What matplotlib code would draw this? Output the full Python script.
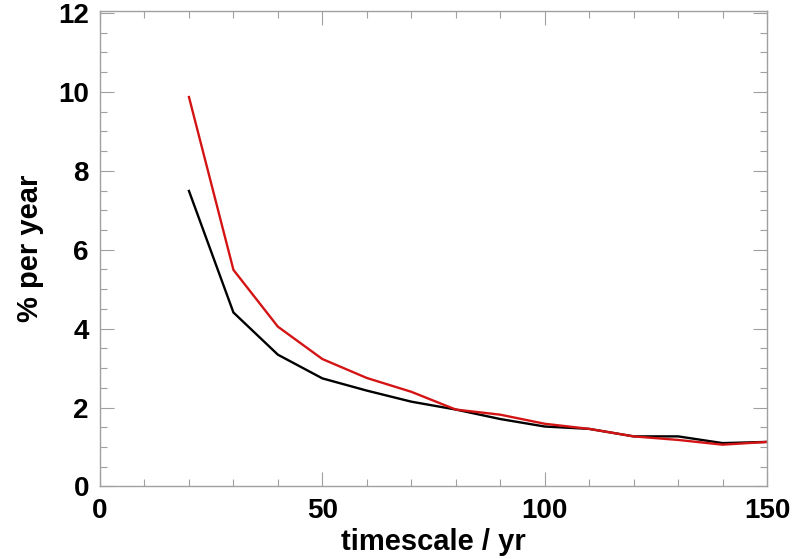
import matplotlib
matplotlib.use("Agg")
from matplotlib import pyplot as plt
from matplotlib.ticker import MultipleLocator

plt.rcParams['font.family'] = ['Liberation Sans', 'DejaVu Sans']
plt.rcParams['font.weight'] = 'bold'

# timescale (yr) and rates (% per year)
timescale = [20, 30, 40, 50, 60, 70, 80, 90, 100, 110, 120, 130, 140, 150]
black_rate = [7.49, 4.41, 3.34, 2.74, 2.43, 2.15, 1.95, 1.71, 1.52, 1.46, 1.27, 1.27, 1.10, 1.13]
red_rate = [9.87, 5.49, 4.05, 3.23, 2.75, 2.40, 1.95, 1.82, 1.59, 1.46, 1.27, 1.18, 1.06, 1.13]

fig = plt.figure(figsize=(8.08, 5.59), dpi=100)
ax = fig.add_axes([0.1238, 0.1297, 0.8255, 0.8506])

ax.plot(timescale, black_rate, color='black', lw=1.7)
ax.plot(timescale, red_rate, color='#d41414', lw=1.7)

ax.set_xlim(0, 150)
ax.set_ylim(0, 12.05)
ax.xaxis.set_major_locator(MultipleLocator(50))
ax.xaxis.set_minor_locator(MultipleLocator(10))
ax.yaxis.set_major_locator(MultipleLocator(2))
ax.yaxis.set_minor_locator(MultipleLocator(0.5))

for s in ax.spines.values():
    s.set_color('#a0a0a0')
    s.set_linewidth(1.0)
ax.tick_params(which='both', direction='in', top=True, right=True, color='#a0a0a0',
               labelsize=20, width=0.8)
ax.tick_params(which='major', length=10, pad=8)
ax.tick_params(which='minor', length=5)

ax.set_xlabel('timescale / yr', fontsize=21, fontweight='bold', labelpad=3)
ax.set_ylabel('% per year', fontsize=21, fontweight='bold', labelpad=10)

fig.savefig('out.png', dpi=100)
